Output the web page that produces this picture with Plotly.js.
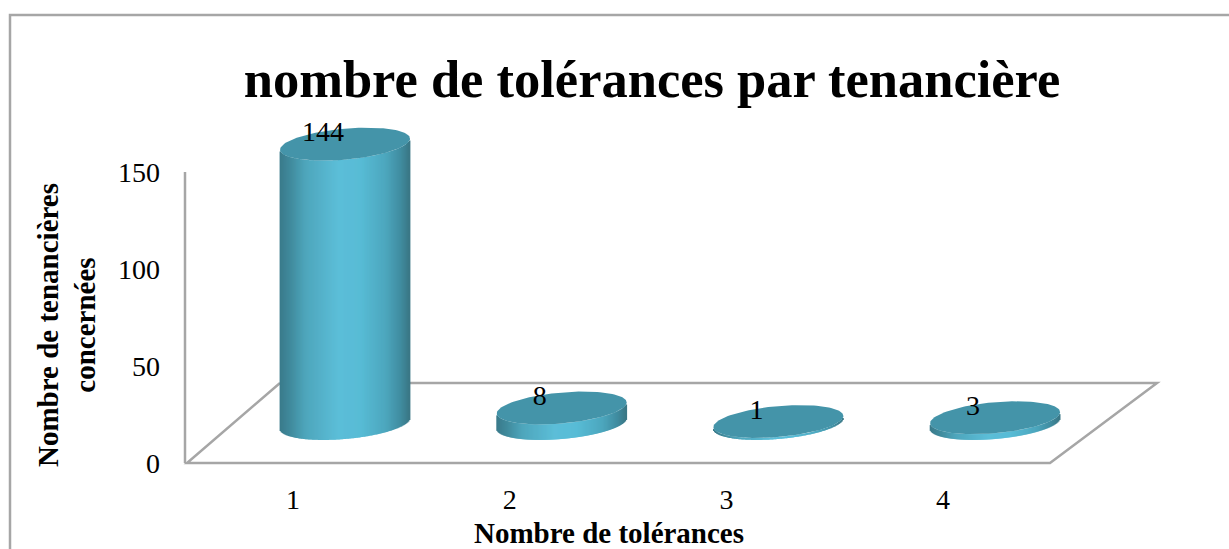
<!DOCTYPE html>
<html><head><meta charset="utf-8">
<script src="https://cdn.plot.ly/plotly-3.0.1.min.js"></script>
<style>html,body{margin:0;padding:0;background:#fff}#c{width:1229px;height:549px}</style>
</head><body><div id="c"></div>
<script>
const categories = [1, 2, 3, 4];
const values = [144, 8, 1, 3];
const yTicks = [0, 50, 100, 150];
const chartTitle = 'nombre de tolérances par tenancière';
const xTitle = 'Nombre de tolérances';
const yTitle = 'Nombre de tenancières<br>concernées';

const W = 1229, H = 549;
const FONT = '"Liberation Serif", serif';
const GREY = '#a6a6a6';
const m = {l: 142, r: W - 1076, t: 122, b: H - 528};
const pxPerCat = 216.7, pxPerVal = 291 / 150;
const tick1Px = 293, y0Px = 463;
const xLow = 1 - (tick1Px - m.l) / pxPerCat;
const xHigh = 1 + (W - m.r - tick1Px) / pxPerCat;
const yLow = -(H - m.b - y0Px) / pxPerVal;
const yHigh = (y0Px - m.t) / pxPerVal;

// 3D depth offsets of the column centres, in pixels
const depthX = 52, depthY = 39.5;
const rx = 65, ry = 15.5, tilt = 5.5;

const stops = [[0, [58,122,138]], [0.08, [64,138,156]], [0.2, [78,166,188]], [0.45, [92,190,216]],
               [0.62, [88,188,214]], [0.82, [76,166,189]], [0.93, [64,140,160]], [1, [58,118,132]]];
function shade(f) {
  for (let i = 1; i < stops.length; i++) {
    if (f <= stops[i][0]) {
      const a = stops[i-1], b = stops[i], k = (f - a[0]) / (b[0] - a[0]);
      const c = a[1].map((v, j) => Math.round(v + (b[1][j] - v) * k));
      return `rgb(${c[0]},${c[1]},${c[2]})`;
    }
  }
  return 'rgb(58,118,132)';
}

const traces = [];
const cx = c => c + depthX / pxPerCat;
const base = depthY / pxPerVal;

categories.forEach((cat, idx) => {
  const v = values[idx];
  const xs = [], ys = [], bases = [], cols = [];
  const step = 1;
  for (let i = 0; i < 2 * rx; i += step) {
    const dx = -rx + i + step / 2;
    const cosT = dx / rx, sinT = Math.sqrt(1 - cosT * cosT);
    xs.push(cx(cat) + dx / pxPerCat);
    ys.push(v);
    bases.push(base + (tilt * cosT - ry * sinT) / pxPerVal);
    cols.push(shade((dx + rx) / (2 * rx)));
  }
  traces.push({type: 'bar', x: xs, y: ys, base: bases, width: 1.8 * step / pxPerCat,
    marker: {color: cols, opacity: 1, line: {width: 0}}, hoverinfo: 'skip', showlegend: false});
});

categories.forEach((cat, idx) => {
  const v = values[idx];
  const ex = [], ey = [];
  for (let a = 0; a <= 360; a += 3) {
    const t = a * Math.PI / 180;
    ex.push(cx(cat) + rx * Math.cos(t) / pxPerCat);
    ey.push(base + v + (tilt * Math.cos(t) + ry * Math.sin(t)) / pxPerVal);
  }
  traces.push({type: 'scatter', mode: 'lines', x: ex, y: ey, fill: 'toself', fillcolor: '#4494a9',
    line: {width: 0, color: '#4494a9'}, hoverinfo: 'skip', showlegend: false});
});

traces.push({type: 'scatter', mode: 'text',
  x: categories.map(c => cx(c) - 22 / pxPerCat),
  y: values.map(v => base + v + 10 / pxPerVal),
  text: values.map(String), textposition: 'middle center',
  textfont: {family: FONT, size: 28, color: '#000'},
  hoverinfo: 'skip', showlegend: false});

const plotW = W - m.l - m.r, plotH = H - m.t - m.b;
const px = p => (p - m.l) / plotW;
const py = p => (H - m.b - p) / plotH;
const path = pts => pts.map((p, i) => (i ? 'L' : 'M') + px(p[0]) + ',' + py(p[1])).join(' ');
const lineShape = pts => ({type: 'path', xref: 'paper', yref: 'paper', layer: 'below',
  path: path(pts), line: {color: GREY, width: 2.5}});

const layout = {
  width: W, height: H, margin: m, paper_bgcolor: '#fff', plot_bgcolor: 'rgba(0,0,0,0)',
  barmode: 'overlay', showlegend: false,
  title: {text: chartTitle, x: 652 / W, xanchor: 'center', y: 1 - 79 / H, yanchor: 'middle',
    font: {family: FONT, size: 52.5, color: '#000', weight: 700}},
  xaxis: {range: [xLow, xHigh], tickmode: 'array', tickvals: categories, ticktext: categories.map(String),
    anchor: 'free', position: py(y0Px),
    showgrid: false, zeroline: false, showline: false, ticks: '', ticklabelstandoff: 17,
    tickfont: {family: FONT, size: 28, color: '#000'},
    title: {text: xTitle, standoff: 21, font: {family: FONT, size: 29, color: '#000', weight: 700}}},
  yaxis: {range: [yLow, yHigh], tickmode: 'array', tickvals: yTicks, anchor: 'free', position: px(185),
    showgrid: false, zeroline: false, showline: false, ticks: '', ticklabelstandoff: 25,
    tickfont: {family: FONT, size: 28, color: '#000'},
    title: {text: yTitle, standoff: 12, font: {family: FONT, size: 29, color: '#000', weight: 700}}},
  shapes: [
    lineShape([[10, H + 5], [10, 15], [W + 5, 15]]),
    lineShape([[185, 172], [185, y0Px]]),
    lineShape([[280, 383], [187, y0Px], [1050, y0Px], [1157, 383], [280, 383]])
  ]
};
Plotly.newPlot('c', traces, layout, {displayModeBar: false, staticPlot: true});
</script></body></html>
